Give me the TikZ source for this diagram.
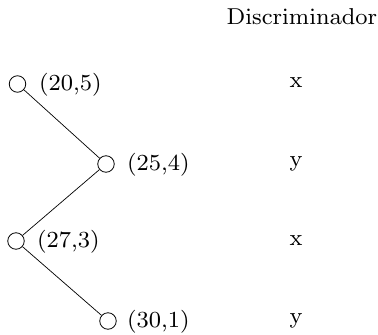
\documentclass[tikz,border=0pt]{standalone}
\font\diagfont=cmr8 at 23pt
\begin{document}
\begin{tikzpicture}[x=1pt,y=-1pt,
  treenode/.style={circle,draw,line width=0.8pt,minimum size=16.5pt,inner sep=0pt},
  lbl/.style={anchor=west,inner sep=0pt,font=\diagfont},
  disc/.style={inner sep=0pt,font=\diagfont},
  edge/.style={line width=0.7pt}]
\useasboundingbox (0,0) rectangle (378,335);
\node[treenode] (n1) at (17.5,84) {};
\node[treenode] (n2) at (106,164) {};
\node[treenode] (n3) at (16,241) {};
\node[treenode] (n4) at (108,321) {};
\node[lbl] (l1) at (39,85) {(20,5)};
\node[lbl] (l2) at (127,165) {(25,4)};
\node[lbl] (l3) at (37,242) {(27,3)};
\node[lbl] (l4) at (127,322) {(30,1)};
\draw[edge] (n1) -- (n2);
\draw[edge] (n2) -- (n3);
\draw[edge] (n3) -- (n4);
\node[disc] (h) at (302,17) {Discriminador};
\node[disc] (d1) at (296,83) {x};
\node[disc] (d2) at (296,164) {y};
\node[disc] (d3) at (296,241) {x};
\node[disc] (d4) at (296,321) {y};
\end{tikzpicture}
\end{document}
